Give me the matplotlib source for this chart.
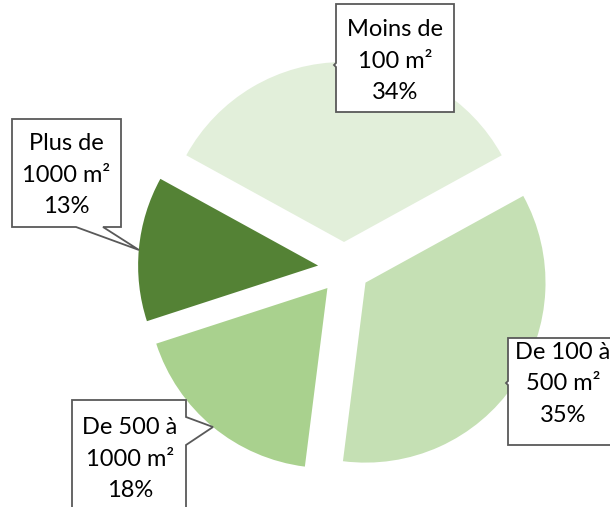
import matplotlib
matplotlib.use('Agg')
import matplotlib.pyplot as plt
from matplotlib.patches import Polygon

plt.rcParams['font.family'] = ['Lato', 'DejaVu Sans']

# Répartition par surface
labels = ['Moins de\n100 m²', 'De 100 à\n500 m²', 'De 500 à\n1000 m²', 'Plus de\n1000 m²']
values = [34, 35, 18, 13]
colors = ['#E2EFDA', '#C5E0B4', '#A9D18E', '#548235']

# position des étiquettes (coordonnées en pixels, origine en bas à gauche)
callouts = [
    {'text': (395, 446), 'poly': [(336, 395), (454, 395), (454, 503), (336, 503), (336, 444), (334, 442), (336, 440)]},
    {'text': (563, 123), 'poly': [(508, 62), (620, 62), (620, 169), (508, 169), (508, 126), (506, 124), (508, 122)]},
    {'text': (130, 48), 'poly': [(72, -10), (186, -10), (186, 62), (213, 80), (186, 90), (186, 107), (72, 107)]},
    {'text': (66, 332), 'poly': [(12, 280), (76, 280), (139, 257), (103, 280), (121, 280), (121, 388), (12, 388)]},
]

fig = plt.figure(figsize=(6.10, 5.07), dpi=100)
ax = fig.add_axes([0, 0, 1, 1])

ax.pie(values, colors=colors, startangle=151.2, counterclock=False,
       center=(344, 239), radius=180, explode=[26] * 4,
       wedgeprops={'linewidth': 0})

for lab, val, c in zip(labels, values, callouts):
    ax.add_patch(Polygon(c['poly'], closed=True, facecolor='white',
                         edgecolor='#595959', linewidth=1.3, zorder=3))
    ax.text(c['text'][0], c['text'][1], f'{lab}\n{val}%', ha='center', va='center',
            fontsize=17, color='black', linespacing=1.6, zorder=4)

ax.set_xlim(0, 610)
ax.set_ylim(0, 507)
ax.set_aspect('auto')
ax.axis('off')

plt.savefig('out.png', dpi=100)
plt.close()
